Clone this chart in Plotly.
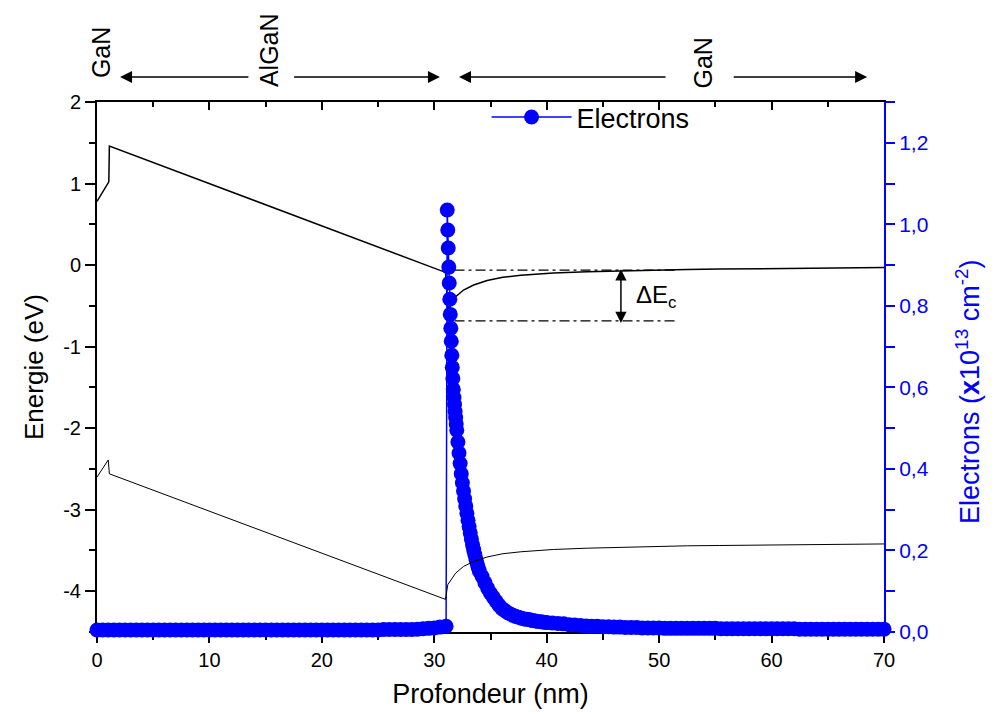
import plotly.graph_objects as go

# ---------------- data ----------------
# Conduction band (eV)
cb_x = [0, 1.05, 1.1, 31.0, 31.2, 31.9, 32.6, 33.5, 34.7, 36.1, 37.7, 40.6, 43.6, 46.5, 52.5, 55.4, 60, 65, 70]
cb_y = [0.78, 1.02, 1.46, -0.09, -0.53, -0.388, -0.306, -0.245, -0.19, -0.15, -0.126, -0.098, -0.082, -0.07, -0.053, -0.049, -0.042, -0.036, -0.03]

# Valence band (eV)
vb_x = [0, 1.0, 1.1, 31.0, 31.2, 31.9, 32.6, 33.5, 34.7, 36.1, 37.7, 40.6, 43.6, 46.5, 52.5, 55.4, 60, 65, 70]
vb_y = [-2.60, -2.39, -2.56, -4.10, -3.92, -3.778, -3.696, -3.635, -3.58, -3.54, -3.516, -3.488, -3.472, -3.46, -3.443, -3.439, -3.432, -3.426, -3.42]

# Delta Ec reference lines
ref_x = [31.8, 51.7]
ref_top = [-0.061, -0.061]
ref_bot = [-0.685, -0.685]

# Electron density (x10^13 cm^-2)
ne_x = [0, 0.5, 1, 1.5, 2, 2.5, 3, 3.5, 4, 4.5, 5, 5.5, 6, 6.5, 7, 7.5, 8, 8.5, 9, 9.5,
        10, 10.5, 11, 11.5, 12, 12.5, 13, 13.5, 14, 14.5, 15, 15.5, 16, 16.5, 17, 17.5, 18, 18.5, 19, 19.5,
        20, 20.5, 21, 21.5, 22, 22.5, 23, 23.5, 24, 24.5, 25, 25.5, 26, 26.5, 27, 27.5, 28, 28.5, 29, 29.5,
        30, 30.5, 31.05,
        31.15, 31.20, 31.24, 31.29, 31.33, 31.38, 31.42, 31.47, 31.51, 31.56, 31.60, 31.65, 31.69,
        31.75, 31.80, 31.85, 31.90, 31.95, 32.0, 32.1, 32.2, 32.3, 32.4, 32.5, 32.6, 32.7, 32.8, 32.9,
        33.0, 33.1, 33.2, 33.3, 33.4, 33.5, 33.6, 33.7, 33.8, 33.9, 34.0,
        34.25, 34.5, 34.75, 35.0, 35.25, 35.5, 35.75, 36.0, 36.25, 36.5, 36.75, 37.0, 37.25, 37.5, 37.75,
        38.0, 38.25, 38.5, 38.75, 39.0, 39.25, 39.5, 39.75, 40.0,
        40.5, 41, 41.5, 42, 42.5, 43, 43.5, 44, 44.5, 45, 45.5, 46, 46.5, 47, 47.5, 48, 48.5, 49, 49.5, 50,
        50.5, 51, 51.5, 52, 52.5, 53, 53.5, 54, 54.5, 55,
        55.5, 56, 56.5, 57, 57.5, 58, 58.5, 59, 59.5, 60, 60.5, 61, 61.5, 62,
        62.5, 63, 63.5, 64, 64.5, 65, 65.5, 66, 66.5, 67, 67.5, 68, 68.5, 69, 69.5, 70]
ne_y = [0.005, 0.005, 0.005, 0.005, 0.005, 0.005, 0.005, 0.005, 0.005, 0.005, 0.005, 0.005, 0.005, 0.005, 0.005, 0.005, 0.005, 0.005, 0.005, 0.005,
        0.005, 0.005, 0.005, 0.005, 0.005, 0.005, 0.005, 0.005, 0.005, 0.005, 0.005, 0.005, 0.005, 0.005, 0.005, 0.005, 0.005, 0.005, 0.005, 0.005,
        0.005, 0.005, 0.005, 0.005, 0.005, 0.005, 0.005, 0.005, 0.005, 0.005, 0.005, 0.006, 0.006, 0.006, 0.006, 0.006, 0.006, 0.007, 0.008, 0.009,
        0.010, 0.012, 0.014,
        1.035, 0.986, 0.942, 0.895, 0.856, 0.816, 0.779, 0.745, 0.713, 0.679, 0.649, 0.622, 0.595,
        0.575, 0.558, 0.541, 0.526, 0.510, 0.495, 0.466, 0.439, 0.413, 0.388, 0.366, 0.346, 0.327, 0.309, 0.291,
        0.274, 0.258, 0.243, 0.228, 0.214, 0.202, 0.190, 0.179, 0.169, 0.159, 0.150,
        0.136, 0.121, 0.107, 0.095, 0.085, 0.075, 0.066, 0.058, 0.053, 0.048, 0.044, 0.041, 0.038, 0.036, 0.034,
        0.032, 0.031, 0.030, 0.028, 0.027, 0.026, 0.025, 0.024, 0.023,
        0.022, 0.021, 0.020, 0.018, 0.017, 0.016, 0.015, 0.014, 0.014, 0.013, 0.013, 0.012, 0.012, 0.011, 0.011, 0.011, 0.010, 0.010, 0.010, 0.010,
        0.009, 0.009, 0.009, 0.009, 0.009, 0.009, 0.009, 0.009, 0.009, 0.009,
        0.008, 0.008, 0.008, 0.008, 0.008, 0.008, 0.008, 0.008, 0.008, 0.008, 0.008, 0.008, 0.008, 0.008,
        0.007, 0.007, 0.007, 0.007, 0.007, 0.007, 0.007, 0.007, 0.007, 0.007, 0.007, 0.007, 0.007, 0.007, 0.007, 0.007]

# Tick labels
x_ticks = [0, 10, 20, 30, 40, 50, 60, 70]
y_ticks = [-4, -3, -2, -1, 0, 1, 2]
y_ticktext = ["-4", "-3", "-2", "-1", "0", "1", "2"]
y2_ticks = [0, 0.2, 0.4, 0.6, 0.8, 1.0, 1.2]
y2_ticktext = ["0,0", "0,2", "0,4", "0,6", "0,8", "1,0", "1,2"]

# Layer labels (text, x position in nm, y in paper) and arrows (tail, head in nm)
layer_labels = [("GaN", 0.35), ("AlGaN", 15.3), ("GaN", 53.9)]
layer_label_y = [1.094, 1.098, 1.0745]
arrows = [(13.6, 2.05), (17.4, 30.5), (50.7, 32.2), (56.5, 68.5)]

# ---------------- figure ----------------
FONT = "Liberation Sans, Arial, sans-serif"
NARROW = "Liberation Sans Narrow, Arial Narrow, Liberation Sans, Arial, sans-serif"
BLUE = "#0000FF"

fig = go.Figure()
fig.add_trace(go.Scatter(x=cb_x, y=cb_y, mode="lines", line=dict(color="black", width=1.5),
                         showlegend=False, hoverinfo="skip"))
# valence band drawn through the (identical) top x axis so that the frame's top axis is rendered
fig.add_trace(go.Scatter(x=vb_x, y=vb_y, xaxis="x2", mode="lines", line=dict(color="black", width=1),
                         showlegend=False, hoverinfo="skip"))
for ry in (ref_top, ref_bot):
    fig.add_trace(go.Scatter(x=ref_x, y=ry, mode="lines",
                             line=dict(color="black", width=1.2, dash="10px,4px,3px,4px"),
                             showlegend=False, hoverinfo="skip"))
fig.add_trace(go.Scatter(x=ne_x, y=ne_y, yaxis="y2", mode="lines+markers", name="Electrons",
                         line=dict(color=BLUE, width=1.5),
                         marker=dict(color=BLUE, size=15, line=dict(width=0)),
                         cliponaxis=False))

axis_common = dict(showgrid=False, zeroline=False, showline=True, layer="below traces")

fig.update_layout(
    width=995, height=716,
    margin=dict(l=97, r=111, t=102, b=84),
    paper_bgcolor="white", plot_bgcolor="white",
    font=dict(family=FONT, color="black"),
    xaxis=dict(**axis_common, range=[0, 70], linecolor="black", linewidth=2,
               ticks="outside", ticklen=9, tickwidth=1.5, tickcolor="black",
               tickmode="array", tickvals=x_ticks,
               minor=dict(ticks="outside", ticklen=6, tickwidth=1.5, tickcolor="black",
                          tickmode="linear", tick0=0, dtick=5),
               tickfont=dict(family=NARROW, size=20),
               title=dict(text="Profondeur (nm)", font=dict(family=NARROW, size=27), standoff=14)),
    xaxis2=dict(**axis_common, overlaying="x", side="top", anchor="y", matches="x", range=[0, 70],
                linecolor="black", linewidth=2, ticks="inside", ticklen=8, tickwidth=1.5, tickcolor="black",
                tickmode="array", tickvals=x_ticks, showticklabels=False,
                minor=dict(ticks="inside", ticklen=5, tickwidth=1.5, tickcolor="black",
                           tickmode="linear", tick0=0, dtick=5)),
    yaxis=dict(**axis_common, range=[-4.5, 2], linecolor="black", linewidth=2,
               ticks="outside", ticklen=10, tickwidth=1.5, tickcolor="black",
               tickmode="array", tickvals=y_ticks, ticktext=y_ticktext,
               minor=dict(ticks="outside", ticklen=6, tickwidth=1.5, tickcolor="black",
                          tickmode="linear", tick0=0, dtick=0.5),
               tickfont=dict(size=20),
               title=dict(text="Energie (eV)", font=dict(size=26), standoff=12)),
    yaxis2=dict(**axis_common, overlaying="y", side="right", anchor="x", range=[0, 1.3],
                linecolor=BLUE, linewidth=2, ticks="outside", ticklen=9, tickwidth=1.5, tickcolor=BLUE,
                tickmode="array", tickvals=y2_ticks, ticktext=y2_ticktext,
                minor=dict(ticks="outside", ticklen=9, tickwidth=1.5, tickcolor=BLUE,
                           tickmode="linear", tick0=0, dtick=0.1),
                tickfont=dict(size=21, color=BLUE)),
    legend=dict(x=0.495, y=1.017, xanchor="left", yanchor="top", bgcolor="rgba(0,0,0,0)",
                font=dict(size=27), itemwidth=80),
)

annotations = []
for (txt, xpos), ly in zip(layer_labels, layer_label_y):
    annotations.append(dict(text=txt, x=xpos, y=ly, xref="x", yref="paper", textangle=-90,
                            showarrow=False, font=dict(size=25, color="black"),
                            xanchor="center", yanchor="middle"))
for tail, head in arrows:
    annotations.append(dict(text="", x=head, y=1.047, ax=tail, ay=0, xref="x", yref="paper",
                            axref="x", ayref="pixel", showarrow=True, arrowhead=2, arrowsize=1.6,
                            arrowwidth=1.5, arrowcolor="black"))
# Delta Ec double arrow and label
annotations.append(dict(text="", x=46.6, y=-0.05, ax=46.6, ay=-0.73, xref="x", yref="y",
                        axref="x", ayref="y", showarrow=True, arrowhead=2, startarrowhead=2,
                        arrowside="end+start", arrowsize=1.5, startarrowsize=1.5,
                        arrowwidth=1.5, arrowcolor="black"))
annotations.append(dict(text="\u0394E<sub>c</sub>", x=47.8, y=-0.38, xref="x", yref="y",
                        showarrow=False, xanchor="left", yanchor="middle",
                        font=dict(size=24, color="black")))
# Right axis title
annotations.append(dict(text="Electrons (<b>x</b>10<sup>13</sup> cm<sup>-2</sup>)",
                        x=(968 - 97) / 787, y=(632 - 392) / 530, xref="paper", yref="paper",
                        textangle=-90, showarrow=False, xanchor="center", yanchor="middle",
                        font=dict(size=27, color=BLUE)))
fig.update_layout(annotations=annotations)

fig.write_html("out.html")
